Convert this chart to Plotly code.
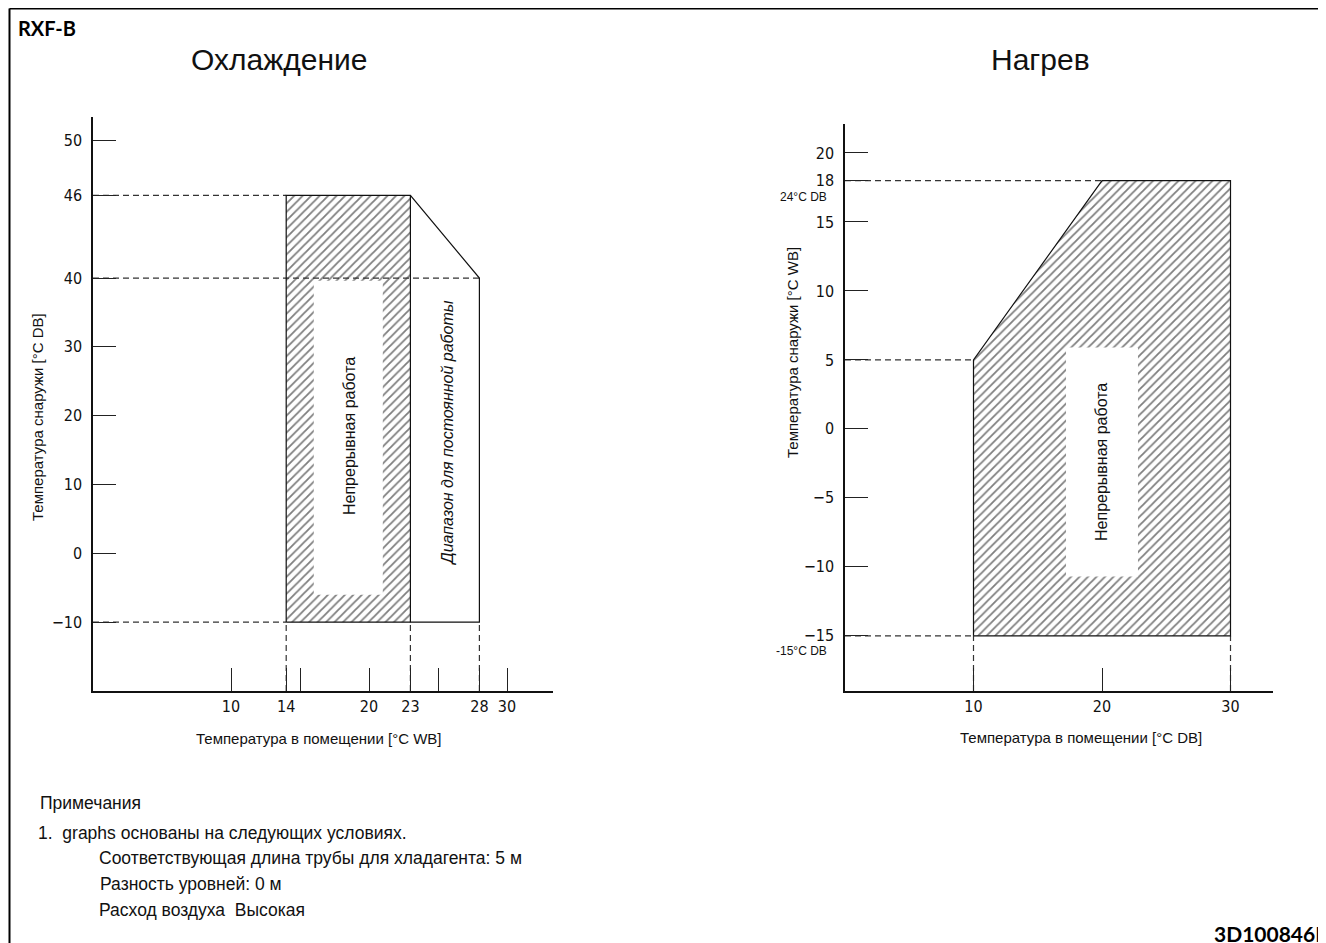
import numpy as np
import plotly.graph_objects as go

W, H = 1326, 943

# ---------------- data ----------------
# Cooling (Охлаждение): indoor WB (x) vs outdoor DB (y)
cool_xticks = [10, 14, 15, 20, 23, 25, 28, 30]
cool_xticktext = ["10", "14", "", "20", "23", "", "28", "30"]
cool_yticks = [-10, 0, 10, 20, 30, 40, 46, 50]
cool_yticktext = ["\u221210", "0", "10", "20", "30", "40", "46", "50"]
# hatched continuous-operation zone
cool_zone_x = [14, 23, 23, 14, 14]
cool_zone_y = [-10, -10, 46, 46, -10]
# white text box inside hatched zone
cool_box_x = [16, 21, 21, 16, 16]
cool_box_y = [-6, -6, 39.6, 39.6, -6]
# operating range outline
cool_range_x = [14, 14, 23, 28, 28, 14]
cool_range_y = [-10, 46, 46, 40, -10, -10]
cool_div_x = [23, 23]
cool_div_y = [-10, 46]
# schematic (non-linear) vertical scale of the cooling chart
cool_scale_val = [-20, 40, 46, 50, 54]
cool_scale_pos = [-20, 40, 52, 60, 63.4]

# Heating (Нагрев): indoor DB (x) vs outdoor WB (y)
heat_xticks = [10, 20, 30]
heat_yticks = [-15, -10, -5, 0, 5, 10, 15, 18, 20]
heat_yticktext = ["\u221215", "\u221210", "\u22125", "0", "5", "10", "15", "18", "20"]
heat_zone_x = [10, 10, 20, 30, 30, 10]
heat_zone_y = [-15, 5, 18, 18, -15, -15]
heat_box_x = [17.2, 22.8, 22.8, 17.2, 17.2]
heat_box_y = [-10.7, -10.7, 5.9, 5.9, -10.7]


def cy(v):
    return list(np.interp(v, cool_scale_val, cool_scale_pos))


# ---------------- layout helpers (screen pixel -> paper) ----------------
OFF = 8  # page body margin


def px(x):
    return (x - OFF) / W


def py(y):
    return 1 - (y - OFF) / H


FONT = "Liberation Sans, Arial, sans-serif"
NARROW = "Liberation Sans Narrow, DejaVu Sans Condensed, Arial Narrow, sans-serif"
BOLD = "Lato, Calibri, Liberation Sans, sans-serif"
DASH = "6px,4px"
LC = "#111111"
DC = "#333333"

fig = go.Figure()


def line(x, y, xa, ya, dash=None, color=LC, width=1.2):
    fig.add_trace(go.Scatter(x=x, y=y, mode="lines", xaxis=xa, yaxis=ya,
                             line=dict(color=color, width=width, dash=dash),
                             hoverinfo="skip", showlegend=False))


def poly(x, y, xa, ya, pattern=True):
    kw = dict(x=x, y=y, mode="lines", fill="toself", xaxis=xa, yaxis=ya,
              line=dict(width=0, color="rgba(0,0,0,0)"), hoverinfo="skip",
              showlegend=False, fillcolor="white")
    if pattern:
        kw["fillpattern"] = dict(shape="/", size=6, solidity=0.3,
                                 fgcolor="#000000", bgcolor="white")
    fig.add_trace(go.Scatter(**kw))


# ---- cooling chart ----
poly(cool_zone_x, cy(cool_zone_y), "x", "y", True)
poly(cool_box_x, cy(cool_box_y), "x", "y", False)
line([0, cool_zone_x[0]], cy([46, 46]), "x", "y", DASH, DC)
line([0, 28], cy([40, 40]), "x", "y", DASH, DC)
line([0, 14], cy([-10, -10]), "x", "y", DASH, DC)
for xv in (14, 23, 28):
    line([xv, xv], cy([-20, -10]), "x", "y", DASH, DC)
line(cool_range_x, cy(cool_range_y), "x", "y")
line(cool_div_x, cy(cool_div_y), "x", "y")

# ---- heating chart ----
poly(heat_zone_x, heat_zone_y, "x2", "y2", True)
poly(heat_box_x, heat_box_y, "x2", "y2", False)
line([0, 20], [18, 18], "x2", "y2", DASH, DC)
line([0, 10], [5, 5], "x2", "y2", DASH, DC)
line([0, 10], [-15, -15], "x2", "y2", DASH, DC)
for xv in (10, 30):
    line([xv, xv], [-19, -15], "x2", "y2", DASH, DC)
line(heat_zone_x, heat_zone_y, "x2", "y2")

axis_common = dict(showgrid=False, zeroline=False, showline=True,
                   linecolor="#111111", linewidth=1.5, ticks="inside",
                   ticklen=23, tickwidth=1.2, tickcolor="#222222",
                   tickfont=dict(family=NARROW, size=16, color="#111111"),
                   fixedrange=True)

fig.update_layout(
    width=W, height=H,
    margin=dict(l=0, r=0, t=0, b=0),
    paper_bgcolor="white", plot_bgcolor="white",
    showlegend=False,
    xaxis=dict(domain=[px(93), px(553)], range=[0, 460 / 13.8],
               anchor="y", tickmode="array", tickvals=cool_xticks,
               ticktext=cool_xticktext, ticklabelstandoff=0, **axis_common),
    yaxis=dict(domain=[py(691), py(117)], range=[-20, 63.4],
               anchor="x", tickmode="array", tickvals=cy(cool_yticks),
               ticktext=cool_yticktext, ticklabelstandoff=6, **axis_common),
    xaxis2=dict(domain=[px(845), px(1273)], range=[0, 428 / 12.85],
                anchor="y2", tickmode="array", tickvals=heat_xticks,
                ticktext=[str(v) for v in heat_xticks], ticklabelstandoff=0,
                **axis_common),
    yaxis2=dict(domain=[py(691), py(124)], range=[-19, 22.1],
                anchor="x2", tickmode="array", tickvals=heat_yticks,
                ticktext=heat_yticktext, ticklabelstandoff=6, **axis_common),
)

ann = []


def text(t, x, y, size=15, xanchor="center", yanchor="middle", angle=0,
         family=FONT, xref="paper", yref="paper", color="#111111"):
    ann.append(dict(text=t, x=x, y=y, xref=xref, yref=yref, showarrow=False,
                    xanchor=xanchor, yanchor=yanchor, textangle=angle,
                    font=dict(family=family, size=size, color=color)))


# titles
text("<b>RXF-B</b>", px(16), py(28), size=20, xanchor="left", family=BOLD, color="black")
text("Охлаждение", px(279), py(60), size=30)
text("Нагрев", px(1040), py(60), size=30)
text("<b>3D100846E</b>", px(1212), py(933), size=21, xanchor="left", family=BOLD, color="black")

# axis titles
text("Температура снаружи [°C DB]", px(37), py(417), size=15, angle=-90)
text("Температура в помещении [°C WB]", px(319), py(738), size=15)
text("Температура снаружи [°C WB]", px(792), py(353), size=15, angle=-90)
text("Температура в помещении [°C DB]", px(1081), py(737), size=15)

# in-plot labels
text("Непрерывная работа", 18.6, cy([17])[0], size=16, angle=-90, xref="x", yref="y")
text("<i>Диапазон для постоянной работы</i>", 25.7, cy([17.5])[0], size=16, angle=-90, xref="x", yref="y")
text("Непрерывная работа", 20, -2.4, size=16, angle=-90, xref="x2", yref="y2")
text("24°C DB", px(829), py(197), size=12, xanchor="right")
text("-15°C DB", px(829), py(651), size=12, xanchor="right")

# notes
NS = 17.5
text("Примечания", px(38), py(803), size=NS, xanchor="left")
text("1.  graphs основаны на следующих условиях.", px(36), py(833), size=NS, xanchor="left")
text("Соответствующая длина трубы для хладагента: 5 м", px(97), py(858), size=NS, xanchor="left")
text("Разность уровней: 0 м", px(98), py(884), size=NS, xanchor="left")
text("Расход воздуха  Высокая", px(97), py(910), size=NS, xanchor="left")

fig.update_layout(annotations=ann)

# page frame (top and left rules)
fig.add_shape(type="line", xref="paper", yref="paper", x0=px(9.5), x1=1,
              y0=py(8.5), y1=py(8.5), line=dict(color="black", width=2))
fig.add_shape(type="line", xref="paper", yref="paper", x0=px(9.5), x1=px(9.5),
              y0=0, y1=py(8.5), line=dict(color="black", width=2))

fig.write_html("out.html")
